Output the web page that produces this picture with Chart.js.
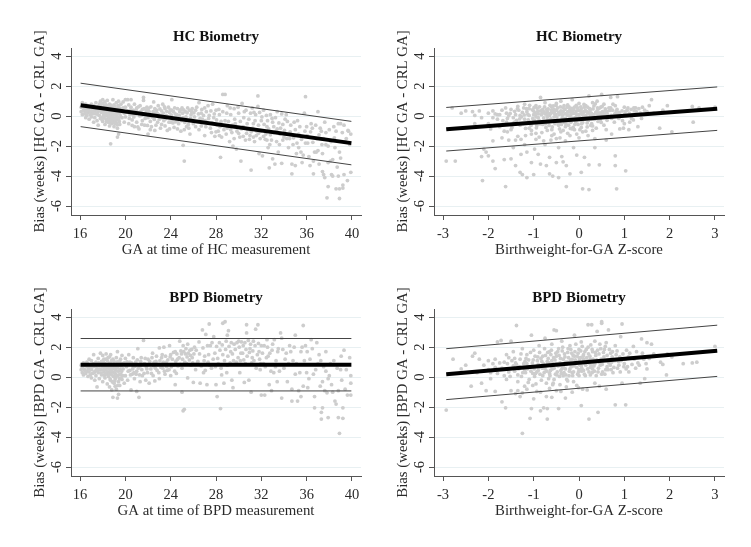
<!DOCTYPE html>
<html><head><meta charset="utf-8">
<script src="https://cdn.jsdelivr.net/npm/chart.js@4"></script>
<style>html,body{margin:0;padding:0;background:#fff;width:751px;height:547px;overflow:hidden}
canvas{position:absolute}</style></head><body>
<canvas id="c1" style="left:0;top:20px"></canvas>
<canvas id="c2" style="left:375px;top:20px"></canvas>
<canvas id="c3" style="left:0;top:281px"></canvas>
<canvas id="c4" style="left:375px;top:281px"></canvas>
<script>
const gaTicks=[16,20,24,28,32,36,40];
const zTicks=[-3,-2,-1,0,1,2,3];
const biasTicks=[4,2,0,-2,-4,-6];

const hcGaPoints=[[16.1,.3],[16.1,.6],[16.2,.1],[16.2,.9],[16.3,.4],[16.3,.7],[16.4,.15],[16.4,.55],[16.5,-.1],[16.5,.35],[16.5,.8],[16.6,.05],[16.6,.5],[16.7,.25],[16.7,.7],[16.8,-.2],[16.8,.4],[16.9,.1],[16.9,.6],[17,.3],[17,-.05],[17,.8],[17.1,.5],[17.1,.15],[17.2,-.4],[17.2,.7],[17.3,.35],[17.3,-.1],[17.4,.55],[17.4,.9],[17.5,.2],[17.5,-.3],[17.6,.65],[17.6,-.6],[17.7,.4],[17.7,.05],[17.8,1],[17.8,.75],[17.8,-.15],[17.9,.55],[17.9,.25],[18,1.1],[18,.85],[18,-.05],[18,-.35],[18.1,.6],[18.1,.3],[18.1,.1],[18.2,-.55],[18.2,.95],[18.2,.45],[18.3,.2],[18.3,-.2],[18.3,.75],[18.4,.05],[18.4,.35],[18.4,1.05],[18.5,.55],[18.5,-.1],[18.5,-.4],[18.5,.15],[18.6,.8],[18.6,.3],[18.6,-.65],[18.7,.5],[18.7,.05],[18.7,-.25],[18.7,-1.85],[18.8,.65],[18.8,.2],[18.8,-.5],[18.9,.4],[18.9,-.05],[18.9,1.1],[19,.75],[19,.1],[19,-.3],[19,-.7],[19.1,.5],[19.1,.25],[19.1,-.15],[19.2,.9],[19.2,-.45],[19.2,.05],[19.3,.35],[19.3,-1.4],[19.3,-.8],[19.4,.6],[19.4,-.2],[19.4,-1.2],[19.4,1],[19.5,.15],[19.5,-.55],[19.6,.4],[19.6,.8],[19.7,-.1],[19.8,.55],[19.8,.95],[19.9,.2],[19.9,-.4],[20,1.1],[20,.6],[20,-.05],[20.2,1.1],[20.2,.35],[20.3,.75],[20.3,-.5],[20.4,.1],[20.5,.6],[20.5,1.1],[20.6,-.25],[20.7,.4],[20.8,.8],[20.8,-.7],[20.9,.15],[21,.55],[21,-.4],[21.1,.25],[21.2,-.85],[21.3,.7],[21.4,.05],[21.5,.45],[21.5,-.3],[21.6,1.25],[21.6,1.05],[21.7,-.6],[21.8,.2],[21.9,.6],[22,-.1],[22,-1.2],[22.1,.3],[22.2,-.9],[22.2,-.35],[22.4,.05],[22.5,.95],[22.6,.5],[22.7,-.6],[22.8,.2],[22.9,.7],[23,-.2],[23.1,-.8],[23.2,.35],[23.3,.8],[23.4,-.3],[23.5,.5],[23.6,.05],[23.7,-.95],[23.8,.6],[23.9,.25],[24,-.4],[24.1,1.1],[24.1,.4],[24.3,-.75],[24.4,.15],[24.5,-.15],[24.6,.5],[24.7,-.5],[24.8,.3],[24.9,-1],[25,.55],[25.1,-1.95],[25.1,-.1],[25.2,-3],[25.3,.3],[25.4,-.7],[25.5,.55],[25.6,-.3],[25.7,-1.2],[25.8,.1],[25.9,.5],[26,-.5],[26.1,-.05],[26.3,.6],[26.5,.9],[26.5,-.9],[26.7,.2],[26.8,-.2],[27,.55],[27,-1.3],[27.2,-.4],[27.3,.7],[27.4,.05],[27.5,-.8],[27.7,.8],[27.8,-.1],[27.9,-1.35],[28,.4],[28.1,-.6],[28.2,-1],[28.3,.1],[28.4,-2.75],[28.5,-1.4],[28.6,1.45],[28.6,.3],[28.8,1.45],[28.8,-.3],[29,-.8],[29,.7],[29.2,-1.7],[29.3,.1],[29.4,-1.1],[29.5,-2],[29.6,.5],[29.7,-.5],[29.8,-2.2],[30,.2],[30.1,-1.4],[30.2,-3],[30.3,.85],[30.4,-.7],[30.5,.3],[30.6,-1.6],[30.8,-.9],[30.9,-.2],[31,-1.3],[31.1,-3.6],[31.2,.55],[31.3,-.5],[31.4,-1.7],[31.5,.1],[31.6,-1],[31.7,1.35],[31.7,.65],[31.8,-2.5],[31.9,-1.5],[32,-.3],[32.1,-2.65],[32.2,.4],[32.4,-1.2],[32.5,-.7],[32.6,-2.1],[32.7,-3.45],[32.8,.1],[32.9,-1.6],[33,-2.85],[33,-.4],[33.2,-3.2],[33.3,-1],[33.4,.3],[33.5,-2.4],[33.7,-.8],[33.8,.15],[33.8,-3.15],[34,-1.4],[34.1,-.2],[34.2,.1],[34.4,-2.1],[34.6,-.6],[34.7,-3.85],[34.7,-3.2],[34.8,-1.9],[35,-3.3],[35,-.9],[35.2,-.3],[35.3,-1.2],[35.5,-2.4],[35.6,-3.1],[35.8,.2],[35.9,1.3],[35.9,-1.8],[36,-.7],[36.2,-2.7],[36.3,-3.3],[36.5,-.8],[36.6,-3],[36.6,-3.85],[36.8,-.6],[36.9,-1.5],[37,.3],[37,-2.3],[37.1,-3.2],[37.3,-1],[37.4,-3.7],[37.4,-2.5],[37.5,-3.9],[37.6,-.4],[37.6,-4.1],[37.7,-1.9],[37.8,-5.45],[37.9,-4.7],[37.9,-3.1],[38,-.9],[38.2,-3.9],[38.3,-4],[38.3,-2.9],[38.4,-.7],[38.5,-2.1],[38.6,-4.85],[38.7,-3.4],[38.8,-4],[38.8,-.5],[38.9,-5.5],[38.9,-4.85],[39,-2.8],[39.2,-4.8],[39.2,-4.6],[39.3,-3.9],[39.3,-.6],[39.4,-1.7],[39.6,-4.3],[39.7,-1],[39.8,-1.9],[39.9,-3.75],[39.9,-1.2]];
const hcGaDense=[[17.55,.12],[17.63,.33],[17.72,.81],[17.84,.48],[17.93,-.22],[18.04,.42],[18.07,.16],[18.13,-.12],[18.16,.72],[18.22,.05],[18.27,.58],[18.34,-.37],[18.36,.47],[18.42,.22],[18.46,.66],[18.53,.28],[18.55,-.23],[18.58,.01],[18.63,.42],[18.66,-.42],[18.72,.73],[18.74,.18],[18.77,-.08],[18.83,.34],[18.85,-.34],[18.92,.52],[18.94,.09],[18.97,-.18],[19.03,.28],[19.06,-.48],[19.08,.62],[19.13,.12],[19.16,-.27],[19.22,.44],[19.24,-.04],[19.27,-.58],[19.33,.18],[19.36,.72],[19.38,-.12],[19.44,.36],[19.46,-.35],[19.52,.54],[19.54,.02],[16.45,.22],[16.73,.48],[16.87,.32],[17.15,.32],[17.36,.16],[17.47,.42],[20.12,.25],[20.35,-.15],[20.45,.4],[20.65,.12],[20.75,-.05],[20.95,.42],[21.15,.62],[21.25,.02],[21.35,.3],[21.55,.12],[21.65,.5],[21.75,-.15],[21.85,.38],[22.05,.52],[22.15,.1],[22.25,.62],[22.35,-.05],[22.45,.3],[22.55,-.22],[22.65,.18],[22.75,.4],[22.85,-.4],[22.95,.1],[23.05,.48],[23.15,.05],[23.25,-.12],[23.35,.2],[23.45,.62],[23.55,-.18],[23.65,.32],[23.75,-.05],[23.85,-.4],[23.95,.42],[24.05,.08],[24.15,-.2],[24.25,.3],[24.35,.55],[24.45,-.38],[24.55,.1],[24.65,-.28],[24.75,.05],[24.85,.42],[24.95,-.3],[25.05,.2],[25.15,.42],[25.25,-.42],[25.35,-.05],[25.45,.22],[25.55,-.55],[25.65,.4],[25.75,-.15],[25.85,.3],[25.95,-.28],[26.05,.22],[26.2,.4],[26.35,-.35],[26.45,.15],[26.6,-.15],[26.75,.45],[26.9,.05],[27.05,-.3],[27.15,.3],[27.35,-.15],[27.55,.35],[27.65,-.45],[27.85,.15],[28.05,-.25],[28.25,.45],[28.35,-.7],[28.45,-.35],[28.7,-.9],[28.95,.2],[29.1,-.35],[29.25,.55],[29.45,-.6],[29.65,-.2],[29.85,-1],[29.95,.6],[30.15,-.35],[30.25,-.85],[30.45,-.1],[30.65,.4],[30.75,-.5],[30.95,-1.55],[31.05,.2],[31.25,-.8],[31.35,.25],[31.45,-.3],[31.55,-1.3],[31.75,-.6],[31.85,.25],[31.95,-1],[32.05,-.05],[32.25,-.55],[32.35,-1.55],[32.45,.05],[32.55,-.3],[32.65,-.85],[32.75,-1.9],[32.95,-.15],[33.1,-.7],[33.25,-.1],[33.35,-1.7],[33.55,-.45],[33.65,-1.2],[33.9,-.55],[34.05,-.95],[34.3,-.35],[34.5,-1.5],[34.9,-.4],[35.1,-2.5],[35.4,-.7],[35.7,-2.6],[36.1,-1.8],[36.4,-.5],[36.7,-2.4],[37.2,-.8],[37.5,-1.5],[37.9,-2],[38.1,-3],[38.6,-1],[39,-.5],[39.5,-1.5]];
const hcGaLower=[[20.6,-.62],[21.1,-.72],[21.45,-.55],[21.95,-.62],[22.3,-.7],[22.6,-.95],[23.2,-.55],[23.5,-.65],[23.9,-.85],[24.2,-.45],[24.6,-.85],[25.2,-.9],[25.6,-.8],[26.2,-.7],[26.7,-.65],[27.1,-.7],[27.6,-1.1],[28,-1.05],[28.3,-1.3],[28.9,-1.2],[29.3,-.9],[29.6,-1.5],[30,-1.15],[30.4,-1.35],[30.7,-1.15],[31.1,-1.05],[31.3,-1.4],[31.75,-1.15],[32.2,-1.35],[32.5,-1.6],[32.8,-1.25],[33.1,-1.1],[33.4,-.85],[33.6,-1.9],[33.9,-1.6],[34.25,-1.5],[34.55,-1.05],[34.85,-1.45],[35.15,-1.8],[35.3,-2.1],[35.55,-1.55],[35.85,-1],[36.05,-1.3],[36.35,-1.05],[36.55,-1.75],[36.85,-2.4],[37.1,-1.25],[37.35,-1.9],[37.7,-1.1],[38.15,-1.7],[38.45,-1.45],[38.9,-2.4],[39.15,-1.1],[39.65,-.95]];
const hcZPoints=[[-2.93,-3],[-2.73,-3],[-2.8,.55],[-2.6,.2],[-2.5,.35],[-2.35,.3],[-2.3,-.5],[-2.3,.05],[-2.2,.35],[-2.15,-2.7],[-2.15,-.1],[-2.13,-4.3],[-2.1,-2.2],[-2.05,-2.4],[-2,-2.65],[-2,-.5],[-2,.2],[-1.95,-.85],[-1.9,-3],[-1.9,.35],[-1.9,-1.65],[-1.85,-3.5],[-1.8,-.2],[-1.8,.1],[-1.75,-.7],[-1.7,-1.45],[-1.7,.4],[-1.65,-1],[-1.65,-2.9],[-1.62,-4.7],[-1.6,.2],[-1.6,-.4],[-1.55,-1.6],[-1.5,-2.85],[-1.5,-.9],[-1.5,.45],[-1.45,-.1],[-1.45,-2.1],[-1.4,-3.3],[-1.4,.1],[-1.35,-1.35],[-1.35,.65],[-1.3,-.6],[-1.3,-3.75],[-1.28,-2.55],[-1.25,-3.9],[-1.25,.25],[-1.2,-1.9],[-1.2,-.2],[-1.2,.8],[-1.15,-2.4],[-1.15,-4.1],[-1.1,.5],[-1.1,-.8],[-1.1,.05],[-1.05,-1.2],[-1.05,-3.1],[-1,-3.9],[-1,.35],[-.98,-2.2],[-.98,-.3],[-.95,-1.55],[-.95,.7],[-.9,-.1],[-.9,.15],[-.9,-2.55],[-.85,-3.2],[-.85,1.25],[-.82,-1.1],[-.8,.45],[-.8,-.55],[-.75,-1.9],[-.75,.9],[-.72,-3.3],[-.7,.05],[-.7,.3],[-.7,-.25],[-.65,-3.85],[-.65,-2.75],[-.6,.6],[-.6,-.9],[-.6,-1.3],[-.58,-4],[-.55,.2],[-.55,-.05],[-.5,-3.1],[-.5,-1.5],[-.5,.85],[-.5,.4],[-.45,-.6],[-.45,-2.1],[-.45,-4.1],[-.42,-.35],[-.4,.15],[-.4,1],[-.4,-1.05],[-.38,-2.7],[-.35,.55],[-.35,-3.05],[-.35,.3],[-.3,-.15],[-.3,-.7],[-.3,-1.65],[-.28,-4.7],[-.28,-3.3],[-.25,.75],[-.25,.05],[-.2,.45],[-.2,-1.3],[-.2,-3.85],[-.18,-.4],[-.15,1.1],[-.15,.2],[-.12,-2.1],[-.1,-.9],[-.1,.6],[-.08,-.1],[-.05,.35],[-.05,-2.6],[-.02,-.55],[0,.85],[0,.1],[0,-1.45],[.03,-.25],[.05,.5],[.05,-3.75],[.05,-.75],[.08,-4.85],[.1,.3],[.1,-.05],[.12,-2.75],[.15,-1],[.15,.7],[.18,-.45],[.2,.2],[.22,1.35],[.22,-3.25],[.22,-4.9],[.25,.45],[.28,-.2],[.3,-.65],[.3,.9],[.33,.1],[.35,-1.5],[.35,-2.1],[.4,.35],[.4,1],[.42,-.35],[.45,-3.25],[.48,.6],[.5,1.45],[.5,.1],[.55,-.6],[.55,.8],[.6,-1.6],[.62,.3],[.65,-.1],[.7,1.25],[.7,.55],[.72,-1.2],[.78,-.4],[.8,.7],[.8,-2.65],[.8,-3.3],[.83,-4.85],[.85,.15],[.85,1.3],[.9,-.85],[.95,.35],[1,-.5],[1,.6],[1.03,-3.65],[1.05,.05],[1.1,-.9],[1.15,.45],[1.2,-.25],[1.25,.55],[1.3,-.7],[1.35,.2],[1.4,.6],[1.45,.4],[1.55,.7],[1.6,1.1],[1.65,.2],[1.78,-.8],[1.85,.4],[1.95,.7],[2.05,-1.05],[2.5,.65],[2.52,-.4],[2.65,.55],[3,.6],[-.75,.15],[-.65,.05],[-1,.1],[-.85,.35],[-.55,.45],[-.45,.25],[-.3,.15],[-.15,.35],[-.05,.1],[.05,.25],[.15,.05],[-1.15,.3],[-1.3,.05],[-.95,-.05],[-.7,-.05],[-.2,-.05],[.25,.1],[.4,.15],[-.6,.25],[-.25,.3]];
const hcZDense=[[-1.58,-.15],[-1.52,.18],[-1.47,-.55],[-1.42,.32],[-1.38,-.28],[-1.33,.4],[-1.27,-.05],[-1.22,.55],[-1.18,-.82],[-1.13,.12],[-1.08,-.42],[-1.03,.42],[-1.02,-.15],[-.97,.22],[-.93,-.62],[-.92,.52],[-.88,-.28],[-.83,.1],[-.78,-.12],[-.77,.28],[-.73,-.75],[-.68,.48],[-.67,-.4],[-.63,.18],[-.62,-.18],[-.57,.68],[-.53,-.5],[-.52,.12],[-.48,-.28],[-.47,.55],[-.43,-.85],[-.4,.35],[-.37,-.12],[-.33,.7],[-.32,-.42],[-.27,.18],[-.23,-.6],[-.22,.62],[-.18,.1],[-.17,-.22],[-.13,-.75],[-.12,.42],[-.08,.22],[-.07,-.38],[-.03,.55],[-.02,-.15],[.02,-.9],[.03,.38],[.07,.12],[.08,-.42],[.12,.6],[.13,-.2],[.17,.3],[.18,-.72],[.22,-.08],[.23,.5],[.27,.2],[.28,-.5],[.32,-.02],[.33,.68],[.37,.25],[.38,-.8],[.43,.05],[.44,.5],[.47,-.25],[.52,.3],[.53,-.05],[.58,.48],[.6,-.9],[.63,.1],[.68,.38],[.72,-.15],[.75,.8],[.82,.3],[.88,-.15],[.93,.05],[.98,-.8],[1.02,.3],[1.08,.55],[1.12,-.4],[1.18,.1],[1.22,.35],[1.28,.15],[1.32,.5],[1.38,-.15],[1.5,.3],[-1.75,.1],[-1.68,-.3],[-1.62,.55],[-1.9,-.1],[-1.85,.15],[-1.58,-1.05],[-1.48,-.75],[-1.4,-1.6],[-1.28,-1.55],[-1.18,-1.3],[-1.05,-.95],[-.95,-1.15],[-.88,-1.4],[-.78,-1.65],[-.7,-.95],[-.62,-1.6],[-.55,-1.2],[-.42,-1.45],[-.35,-.95],[-.25,-1.15],[-.15,-.85],[-.05,-1.2],[.08,-1.05],[.2,-1.3],[.3,-.95]];
const hcZFill=[[-1.55,.02],[-1.43,-.42],[-1.36,.48],[-1.31,-.18],[-1.24,-.5],[-1.21,.08],[-1.16,.5],[-1.12,-.25],[-1.09,.72],[-1.06,-.62],[-1.01,-.38],[-.99,.58],[-.96,.12],[-.94,-.78],[-.91,.32],[-.87,.62],[-.86,-.52],[-.81,.22],[-.79,-.35],[-.76,.62],[-.74,-.5],[-.71,.45],[-.69,.15],[-.66,-.62],[-.64,.72],[-.61,.38],[-.59,-.72],[-.56,-.28],[-.54,.32],[-.51,.72],[-.49,-.05],[-.46,-.45],[-.44,.12],[-.41,.62],[-.39,-.55],[-.36,.08],[-.34,-.3],[-.31,.45],[-.29,-.5],[-.26,.6],[-.24,-.32],[-.21,.28],[-.19,-.82],[-.16,.52],[-.14,-.15],[-.11,.18],[-.09,-.55],[-.06,.72],[-.04,-.28],[-.01,.38],[.01,-.08],[.04,.62],[.06,-.5],[.09,.18],[.11,.78],[.14,.38],[.16,-.08],[.19,.6],[.21,-.28],[.24,.3],[.26,-.62],[.29,.12],[.31,.48],[.34,-.22],[.36,.82],[.39,-.1],[.41,.55],[.46,.22],[.49,-.42],[.51,.65],[.56,.15],[.59,.35],[.62,-.28],[.66,.55],[.71,.05],[.74,.4],[.79,.15],[.84,.45],[.89,.25],[.96,-.3],[1.01,.12],[1.06,.4],[1.11,.2],[1.16,-.15],[1.21,.55],[1.26,.32]];
const bpdGaPoints=[[16.1,.5],[16.1,.8],[16.2,.3],[16.2,.65],[16.3,.95],[16.3,.15],[16.4,.5],[16.5,.75],[16.5,.25],[16.6,1],[16.6,.4],[16.7,.05],[16.7,.65],[16.8,1.2],[16.8,.35],[16.9,.8],[16.9,.15],[17,-.05],[17,1.1],[17,.5],[17.1,.25],[17.2,.7],[17.2,1.5],[17.3,.4],[17.3,-.2],[17.4,1],[17.4,.1],[17.5,-.65],[17.5,.6],[17.6,1.25],[17.6,.3],[17.7,.8],[17.7,-.1],[17.8,1.6],[17.8,.5],[17.9,1.05],[17.9,.15],[18,1.45],[18,.7],[18,-.3],[18.1,.35],[18.1,1.2],[18.2,.9],[18.2,-.05],[18.3,.5],[18.3,1.55],[18.3,.2],[18.4,1.1],[18.4,-.45],[18.5,.75],[18.5,.05],[18.6,1.35],[18.6,.35],[18.6,-.65],[18.7,.95],[18.7,-.2],[18.7,1.5],[18.8,.55],[18.8,-.85],[18.8,.15],[18.9,1.2],[18.9,-1.35],[18.9,.75],[19,-.4],[19,.3],[19,1.05],[19.1,-.6],[19.1,.5],[19.1,-.1],[19.2,.85],[19.2,1.3],[19.2,-.8],[19.3,.1],[19.3,-1.4],[19.3,.65],[19.3,1.7],[19.4,-1.15],[19.4,-.3],[19.4,.4],[19.5,1.05],[19.5,-.55],[19.6,.75],[19.6,.2],[19.7,1.45],[19.7,-.15],[19.8,.55],[19.9,.95],[19.9,-.4],[20,1.25],[20,.1],[20.1,.7],[20.2,-.2],[20.3,1.5],[20.4,.45],[20.4,1],[20.5,-.85],[20.6,.2],[20.7,1.3],[20.7,.7],[20.8,-.1],[20.9,1],[21,-.95],[21,.4],[21.1,1.9],[21.2,-1.35],[21.3,.75],[21.3,-.3],[21.4,1.3],[21.5,.1],[21.6,2.45],[21.7,.9],[21.8,-.2],[21.9,.55],[22,1.2],[22.1,-.4],[22.3,.25],[22.4,1.6],[22.5,.75],[22.6,-.25],[22.7,1.05],[22.8,.45],[23,1.95],[23,-.1],[23.2,1.3],[23.3,.6],[23.4,2],[23.5,.2],[23.6,1],[23.7,.45],[23.9,2.1],[24,1.5],[24,.1],[24.2,.8],[24.4,1.7],[24.4,-.5],[24.5,.25],[24.6,1.2],[24.8,2.4],[24.9,1.75],[25,-1],[25,.6],[25.1,2.1],[25.1,-2.25],[25.2,-2.15],[25.3,1.55],[25.4,.9],[25.5,-.05],[25.5,2.2],[25.7,1.8],[25.8,.8],[25.9,1.3],[26,-.35],[26.1,2],[26.2,.5],[26.4,1.05],[26.5,2.35],[26.6,-.4],[26.8,3.15],[26.9,.3],[27,1.4],[27.1,2.85],[27.2,-.5],[27.3,1],[27.4,3.55],[27.5,2.1],[27.6,.6],[27.8,2.7],[27.9,1.6],[28,-.5],[28.1,-1.3],[28.2,.9],[28.3,2.3],[28.4,-2.1],[28.5,.15],[28.6,1.5],[28.6,3.6],[28.7,-.4],[28.8,3.7],[28.9,2.4],[29,.8],[29,2.8],[29.1,3.1],[29.3,1.7],[29.4,-.2],[29.5,-.7],[29.6,2.2],[29.8,1],[30,2.4],[30.1,.3],[30.2,1.6],[30.4,2.1],[30.5,-.35],[30.6,.9],[30.7,3.5],[30.7,2.95],[30.9,-.2],[31,1.9],[31.1,-1],[31.2,1.3],[31.3,2.4],[31.5,3.2],[31.7,3.5],[31.8,1.7],[31.9,.5],[32,2.1],[32,-1.2],[32.2,.9],[32.3,-1.2],[32.5,2.5],[32.6,1.4],[32.7,-.5],[32.9,-.9],[33,2.2],[33.1,.3],[33.3,1.1],[33.4,-.3],[33.5,1.9],[33.7,2.95],[33.8,-1.4],[33.8,2.6],[34,.6],[34.2,1.6],[34.3,-.3],[34.5,2.1],[34.7,-1.6],[34.7,-.8],[34.8,1.1],[35,2.8],[35,.2],[35.2,-1.6],[35.3,-.9],[35.5,1.7],[35.5,-1.3],[35.7,-.6],[35.7,3.45],[35.9,2.1],[36,.3],[36.1,-.7],[36.3,1.2],[36.4,2.5],[36.7,-2.05],[36.7,-1.3],[36.8,.5],[36.9,2.3],[37.1,1.5],[37.2,-.6],[37.3,-2.8],[37.3,-2.35],[37.4,-2.05],[37.5,.7],[37.6,-.9],[37.7,1.7],[37.8,-1.05],[37.9,-2.7],[38,.1],[38.2,-.5],[38.4,1.1],[38.5,-1.6],[38.6,-1.8],[38.8,-2.7],[38.8,-.9],[38.9,-3.75],[39,.5],[39.1,-.2],[39.2,-2.05],[39.2,-2.75],[39.3,1.8],[39.4,-.8],[39.6,-1.2],[39.8,1.3],[39.9,.1],[39.9,-1.2],[39.9,-.4]];
const bpdGaDense=[[17.55,.42],[17.65,.95],[17.75,.55],[17.85,.28],[17.95,.82],[18.05,1.02],[18.08,.5],[18.13,.12],[18.17,.72],[18.24,.25],[18.28,1.2],[18.33,.82],[18.38,.35],[18.44,.62],[18.47,1.3],[18.53,.22],[18.57,.92],[18.62,.52],[18.65,-.12],[18.68,.72],[18.73,.28],[18.78,1.1],[18.82,.4],[18.85,-.32],[18.93,.6],[18.96,.05],[19.03,.85],[19.07,-.25],[19.12,.22],[19.14,.7],[19.18,.02],[19.24,.42],[19.28,1.02],[19.33,-.55],[19.37,.8],[19.42,.15],[19.47,-.1],[19.53,.52],[19.57,1.2],[19.62,-.05],[19.67,.4],[19.73,.9],[19.78,.1],[16.45,.42],[16.75,.55],[16.95,.62],[17.15,.9],[17.25,.3],[17.35,.75],[17.45,.45],[20.15,1.02],[20.25,.4],[20.35,.85],[20.45,.15],[20.55,.95],[20.65,.55],[20.75,.3],[20.85,.72],[20.95,.2],[21.05,1.15],[21.15,.6],[21.25,.15],[21.35,1.05],[21.45,.5],[21.55,.85],[21.65,.25],[21.75,1.25],[21.85,.7],[21.95,.3],[22.05,.85],[22.15,1.05],[22.25,.55],[22.35,1.3],[22.45,.1],[22.55,1],[22.65,.6],[22.75,1.4],[22.85,.85],[22.95,.3],[23.05,1.1],[23.15,.65],[23.25,1.5],[23.35,1],[23.45,.4],[23.55,1.4],[23.65,.7],[23.75,1.15],[23.85,.5],[23.95,1.35],[24.05,.7],[24.15,1.2],[24.25,1.65],[24.35,.4],[24.45,1.05],[24.55,1.55],[24.65,.75],[24.75,1.3],[24.85,.85],[24.95,1.55],[25.05,1.2],[25.15,1.7],[25.25,1],[25.35,1.9],[25.45,1.35],[25.55,1.6],[25.65,1.15],[25.75,1.45],[25.85,1.85],[25.95,.95],[26.05,1.55],[26.25,1.8],[26.35,.95],[26.55,1.55],[26.7,.75],[26.85,1.95],[26.95,1.1],[27.05,.45],[27.25,2.1],[27.35,1.5],[27.45,.8],[27.65,2.3],[27.75,1.2],[27.95,.7],[28.05,2.05],[28.15,1.25],[28.35,1.8],[28.45,.6],[28.55,2.15],[28.75,1.1],[28.85,1.85],[28.95,.3],[29.05,1.4],[29.15,2.05],[29.25,.95],[29.35,2.3],[29.45,1.55],[29.55,1.1],[29.7,1.85],[29.85,2.3],[29.95,1.3],[30.05,2],[30.15,1.1],[30.25,2.35],[30.35,1.6],[30.45,1.15],[30.55,2.3],[30.65,1.85],[30.75,1.4],[30.85,2.45],[30.95,1.65],[31.05,2.2],[31.15,.95],[31.25,1.75],[31.35,1.1],[31.45,2.1],[31.55,.6],[31.65,1.5],[31.75,2.25],[31.85,1.2],[31.95,.9],[32.1,1.6],[32.25,2.1],[32.35,.7],[32.45,1.3],[32.55,2],[32.75,1.6],[32.85,.4],[32.95,1.8],[33.15,2.5],[33.25,.7],[33.45,1.7],[33.6,.4],[33.9,1.85],[34.1,1.2],[34.4,.9],[34.6,1.7],[34.9,2],[35.1,.9],[35.4,.3],[35.6,2],[35.8,1.1],[36.05,1.7],[36.2,-.1],[36.5,1.9],[36.6,.2],[37,.9],[37.25,1.1],[37.4,-.3],[37.7,.4],[37.9,-.1],[38.1,.9],[38.3,-1],[38.7,.6],[39.05,1.4],[39.5,.5]];
const bpdZPoints=[[-2.93,-2.2],[-2.78,1.2],[-2.6,.55],[-2.5,.8],[-2.38,-.6],[-2.35,1.4],[-2.3,1.6],[-2.25,.3],[-2.2,1.2],[-2.15,-.4],[-2.1,.8],[-2.05,-.9],[-2,.5],[-2,1.1],[-1.95,-.1],[-1.9,.9],[-1.85,1.2],[-1.85,-.95],[-1.8,.25],[-1.8,2.35],[-1.72,2.45],[-1.7,-1.65],[-1.7,.6],[-1.65,1],[-1.62,-2.05],[-1.6,-.15],[-1.55,.35],[-1.55,1.3],[-1.5,2.4],[-1.5,-.9],[-1.45,.75],[-1.45,1.7],[-1.4,-1.1],[-1.38,3.45],[-1.35,-.3],[-1.35,.15],[-1.3,1.2],[-1.3,-1.3],[-1.25,1.9],[-1.25,-3.75],[-1.2,.5],[-1.2,-.6],[-1.15,.9],[-1.15,1.5],[-1.1,-.15],[-1.08,-2.75],[-1.05,-2.1],[-1.05,2.8],[-1.02,.25],[-1,-1.45],[-1,1.8],[-.95,.7],[-.95,-.45],[-.92,1.1],[-.88,2.1],[-.85,-2.25],[-.85,-1],[-.8,.1],[-.8,1.4],[-.78,-2.05],[-.75,.55],[-.75,2.6],[-.72,-.4],[-.7,-2.8],[-.7,-2.1],[-.7,.85],[-.65,1.7],[-.65,.25],[-.6,-1.35],[-.6,2.2],[-.6,1.1],[-.55,3.15],[-.55,-.15],[-.55,.6],[-.5,3.1],[-.5,-.9],[-.5,1.4],[-.48,.35],[-.45,-2.1],[-.45,1.9],[-.42,-.5],[-.4,.8],[-.38,2.4],[-.35,.1],[-.35,1.2],[-.3,-1.4],[-.3,.55],[-.25,1.65],[-.25,-.25],[-.2,2.1],[-.2,.9],[-.15,.3],[-.15,-1],[-.1,1.4],[-.1,2.8],[-.05,.65],[-.05,-.55],[0,1.85],[0,.1],[0,1.05],[.05,2.35],[.05,-1.9],[.08,-.8],[.1,.45],[.1,1.5],[.15,.8],[.18,-.85],[.2,3.5],[.2,2],[.22,-2.8],[.25,1.2],[.25,.15],[.28,3.5],[.3,1.7],[.3,.55],[.35,2.4],[.35,-.4],[.4,3.05],[.42,-2.35],[.45,1],[.45,-.6],[.48,1.9],[.5,3.6],[.5,3.7],[.52,.35],[.55,1.35],[.6,-.8],[.6,2.3],[.62,.7],[.65,3.15],[.7,1.6],[.72,1],[.75,.3],[.8,-1.85],[.8,2.1],[.85,.6],[.9,1.35],[.92,2.7],[.95,3.55],[.95,-.4],[1,.9],[1.03,-1.85],[1.05,1.8],[1.1,.35],[1.15,1.3],[1.2,2.05],[1.25,.6],[1.3,.95],[1.35,-.4],[1.38,2.55],[1.4,1.6],[1.45,-.1],[1.5,2.3],[1.5,.55],[1.55,1.25],[1.6,2.2],[1.65,1.55],[1.8,1],[1.85,.85],[1.93,.15],[1.95,1.55],[2.05,1.35],[2.3,.9],[2.5,.95],[2.6,1],[3,2.05],[-.7,1.05],[-.5,.9],[-.3,1],[-.1,.9],[.05,.75],[.2,1.05],[.35,.9],[-.85,.75],[-.4,.45],[-.15,1.2],[.1,1.2],[.25,.65],[-.6,.7],[-.9,.45],[-.2,.55],[0,.5]];
const bpdZDense=[[-1.62,.55],[-1.58,.9],[-1.52,.05],[-1.48,1.1],[-1.42,.4],[-1.38,.85],[-1.33,.55],[-1.28,1.55],[-1.27,.05],[-1.22,.9],[-1.18,.3],[-1.17,1.25],[-1.12,-.35],[-1.08,.65],[-1.07,1.65],[-1.03,.95],[-.98,.05],[-.97,1.4],[-.93,.35],[-.9,.85],[-.87,1.65],[-.83,-.2],[-.82,1.05],[-.77,.3],[-.76,1.9],[-.73,.75],[-.68,1.25],[-.67,-.1],[-.63,.45],[-.62,1.5],[-.58,.9],[-.57,-.4],[-.53,1.15],[-.52,.2],[-.47,1.7],[-.46,.75],[-.43,.05],[-.41,1.25],[-.37,.6],[-.36,2],[-.33,.3],[-.32,1.55],[-.28,.85],[-.27,-.15],[-.23,1.3],[-.22,.1],[-.18,1.85],[-.17,.7],[-.13,1.45],[-.12,.35],[-.08,1.15],[-.07,2.2],[-.03,.2],[-.02,1.6],[.02,.8],[.03,1.3],[.06,.4],[.07,2.05],[.11,.95],[.13,1.7],[.14,.1],[.17,1.3],[.19,.55],[.21,1.55],[.24,.9],[.26,2.15],[.29,.3],[.31,1.2],[.33,.75],[.37,1.45],[.38,.1],[.41,1.8],[.43,.6],[.46,2.2],[.49,1.2],[.51,.85],[.54,1.65],[.57,.2],[.58,2.05],[.61,1.1],[.64,.5],[.67,1.85],[.69,.8],[.73,1.35],[.77,.65],[.82,1.5],[.87,1.05],[.91,.35],[.97,1.55],[1.02,1.2],[1.07,.7],[1.12,1.6],[1.17,.85],[1.22,1.2],[1.27,1.7],[1.33,.8],[1.43,1.2],[1.48,.9],[-1.75,.95],[-1.85,.65],[-1.95,.3],[-1.65,.1],[-1.6,1.5],[-1.42,1.25],[-1.35,-.9],[-1.25,-1.05],[-1.15,-.8],[-1.02,-.55],[-.93,-.95],[-.72,-1.3],[-.65,-.75],[-.58,-.5],[-.4,-.95],[-.28,-.65],[-.12,-.3],[-.01,-.7]];
const bpdZFill=[[-1.4,.95],[-1.32,.7],[-1.24,.3],[-1.19,1.05],[-1.14,.55],[-1.11,1.15],[-1.06,.4],[-1.01,1.15],[-.99,.55],[-.96,.25],[-.91,1.35],[-.89,.65],[-.86,.2],[-.84,1.25],[-.81,.6],[-.79,.9],[-.74,1.45],[-.71,.4],[-.69,1.65],[-.66,.95],[-.64,.1],[-.61,1.8],[-.59,.55],[-.56,1.3],[-.54,.85],[-.51,1.6],[-.49,.15],[-.44,1.45],[-.42,.95],[-.39,.25],[-.37,1.75],[-.34,.65],[-.31,1.35],[-.29,.15],[-.26,1],[-.24,1.9],[-.21,.4],[-.19,1.15],[-.16,1.6],[-.14,.1],[-.11,.75],[-.09,1.7],[-.06,.95],[-.04,1.4],[-.01,.35],[.01,1.25],[.04,1.75],[.06,.6],[.09,1.4],[.12,.2],[.14,1.05],[.16,1.85],[.19,1.1],[.22,.35],[.24,1.4],[.27,.75],[.29,1.85],[.32,.95],[.34,.4],[.36,1.65],[.39,1.15],[.42,.35],[.44,1.55],[.47,.8],[.5,.2],[.53,1.1],[.56,1.85],[.59,.5],[.62,1.45],[.66,.95],[.71,.5],[.74,1.7],[.79,1.1],[.84,1.75],[.88,.8],[.93,1.1],[.99,.7],[1.04,.55],[1.09,1.35]];

const fits={
  hcGa:{x:[16.05,39.95],y:[.73,-1.8],up:[2.2,-.35],lo:[-.7,-3.25]},
  hcZ:{x:[-2.93,3.05],y:[-.88,.5],up:[.58,1.95],lo:[-2.33,-.95]},
  bpdGa:{x:[16.05,39.95],y:[.83,.83],up:[2.58,2.58],lo:[-.92,-.92]},
  bpdZ:{x:[-2.93,3.05],y:[.2,1.77],up:[1.9,3.47],lo:[-1.5,.05]}
};
const FONT="'Liberation Serif','Times New Roman',serif", TEXT='#2a2a2a', AXIS='#555';

function panel(id,title,xTitle,yTitle,points,xTicks,xMin,xMax,fit,box){
  const ln=(ys,w,c)=>({type:'line',data:fit.x.map((x,i)=>({x,y:ys[i]})),borderColor:c,borderWidth:w,pointRadius:0,fill:false,tension:0});
  new Chart(document.getElementById(id),{
    type:'scatter',
    data:{datasets:[
      Object.assign(ln(fit.y,4,'#000'),{order:0}),
      Object.assign(ln(fit.up,1,'#444'),{order:1}),
      Object.assign(ln(fit.lo,1,'#444'),{order:2}),
      {type:'scatter',data:points.map(p=>({x:p[0],y:p[1]})),backgroundColor:'#cdcdcd',borderWidth:0,pointRadius:1.9,order:3}
    ]},
    options:{
      responsive:false,animation:false,devicePixelRatio:1,
      layout:{padding:{left:box.l,right:box.r,top:9.5,bottom:11}},
      plugins:{legend:{display:false},tooltip:{enabled:false},
        title:{display:true,text:title,fullSize:false,color:'#111',font:{family:FONT,size:15,weight:'bold',lineHeight:1},padding:{top:0,bottom:3.5}}},
      scales:{
        x:{type:'linear',min:xMin,max:xMax,
          afterFit:s=>{s.height=44},
          afterBuildTicks:s=>{s.ticks=xTicks.map(v=>({value:v}))},
          grid:{color:'rgba(0,0,0,0)',tickColor:AXIS,tickLength:5,drawTicks:true},
          border:{display:true,color:AXIS,width:1},
          ticks:{color:TEXT,font:{family:FONT,size:14.5},padding:5,maxRotation:0,autoSkip:false},
          title:{display:true,text:xTitle,color:TEXT,font:{family:FONT,size:14.8},padding:0}},
        y:{type:'linear',min:-6.6,max:4.55,
          afterFit:s=>{s.width=box.w},
          afterBuildTicks:s=>{s.ticks=biasTicks.map(v=>({value:v}))},
          grid:{color:'#e8f0f2',lineWidth:1,tickColor:AXIS,tickLength:5,drawTicks:true},
          border:{display:true,color:AXIS,width:1},
          ticks:{color:TEXT,font:{family:FONT,size:14.5},padding:3,minRotation:90,maxRotation:90,crossAlign:'center',autoSkip:false},
          title:{display:true,text:yTitle,color:TEXT,font:{family:FONT,size:14.8},padding:{top:0,bottom:0}}}
      }
    }
  });
}
for(const id of ['c1','c2','c3','c4']){const c=document.getElementById(id);c.width=375;c.height=250;}
const leftBox={l:31,w:40,r:14}, rightBox={l:19,w:40,r:26};
panel('c1','HC Biometry','GA at time of HC measurement','Bias (weeks) [HC GA - CRL GA]',[...hcGaPoints,...hcGaDense,...hcGaLower],gaTicks,15.2,40.8,fits.hcGa,leftBox);
panel('c2','HC Biometry','Birthweight-for-GA Z-score','Bias (weeks) [HC GA - CRL GA]',[...hcZPoints,...hcZDense,...hcZFill],zTicks,-3.2,3.2,fits.hcZ,rightBox);
panel('c3','BPD Biometry','GA at time of BPD measurement','Bias (weeks) [BPD GA - CRL GA]',[...bpdGaPoints,...bpdGaDense],gaTicks,15.2,40.8,fits.bpdGa,leftBox);
panel('c4','BPD Biometry','Birthweight-for-GA Z-score','Bias (weeks) [BPD GA - CRL GA]',[...bpdZPoints,...bpdZDense,...bpdZFill],zTicks,-3.2,3.2,fits.bpdZ,rightBox);
</script>
</body></html>
